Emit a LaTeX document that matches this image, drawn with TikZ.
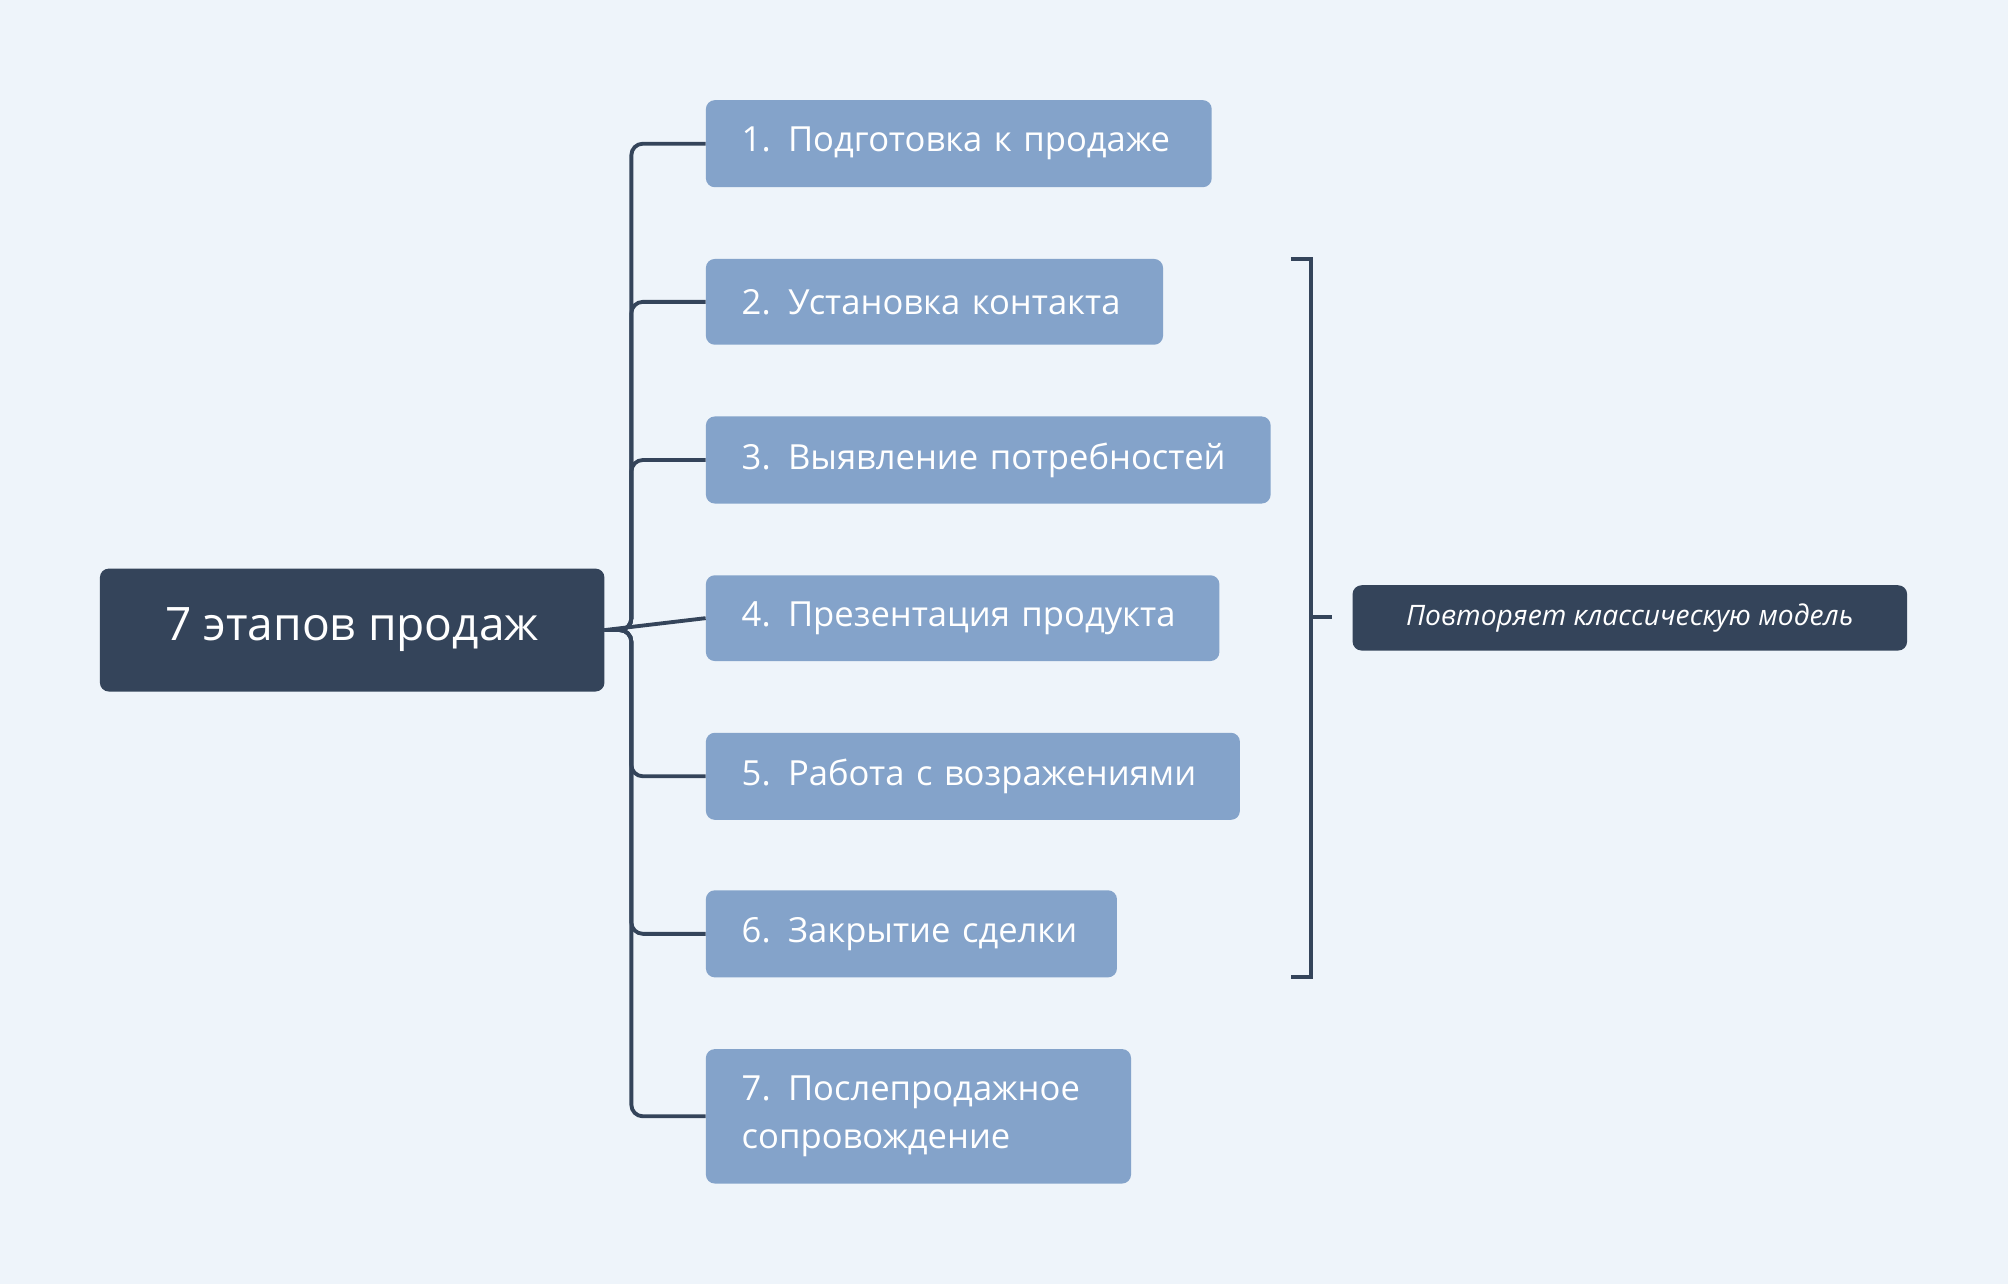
\documentclass[tikz,border=0pt]{standalone}
\usepackage{fontspec}
\setmainfont{Open Sans}
\definecolor{bg}{HTML}{EEF4FA}
\definecolor{dark}{HTML}{34445A}
\definecolor{stage}{HTML}{84A3CA}
\tikzset{
  stagebox/.style={fill=stage, rounded corners=7pt, anchor=north west, text=white, align=left, inner xsep=28pt, inner ysep=0pt, font=\fontsize{27}{38}\selectfont},
  link/.style={draw=dark, line width=3pt, rounded corners=9pt},
}
\begin{document}
\begin{tikzpicture}[x=1pt,y=-1pt]
\fill[bg] (0,0) rectangle (1568,1003);
\useasboundingbox (0,0) rectangle (1568,1003);
\node[fill=dark, rounded corners=7pt, text=white, minimum width=394pt, minimum height=96pt, font=\fontsize{36}{40}\selectfont] (main) at (275,492) {7 этапов продаж};
\node[stagebox, text width=339pt, minimum height=68pt] (b1) at (551,78) {1. Подготовка к продаже};
\node[stagebox, text width=301pt, minimum height=67pt] (b2) at (551,202) {2. Установка контакта};
\node[stagebox, text width=385pt, minimum height=68pt] (b3) at (551,325) {3. Выявление потребностей};
\node[stagebox, text width=345pt, minimum height=67pt] (b4) at (551,449) {4. Презентация продукта};
\node[stagebox, text width=361pt, minimum height=68pt] (b5) at (551,572) {5. Работа с возражениями};
\node[stagebox, text width=265pt, minimum height=68pt] (b6) at (551,695) {6. Закрытие сделки};
\node[stagebox, text width=276pt, minimum height=105pt] (b7) at (551,819) {7. Послепродажное\\сопровождение};
\coordinate (j) at (493,492);
\foreach \b in {b1,b2,b3,b5,b6,b7} {
  \draw[link] (main.east) -- (j) |- (\b.west);
}
\draw[link] (main.east) -- (b4.west);
\coordinate (t) at (1008,202);
\coordinate (bt) at (1008,763);
\coordinate (m) at (1024,482);
\coordinate (me) at (1040,482);
\draw[draw=dark, line width=3pt] (t) -- (1024,202) -- (1024,763) -- (bt);
\draw[draw=dark, line width=3pt] (m) -- (me);
\node[fill=dark, rounded corners=7pt, text=white, anchor=west, minimum width=433pt, minimum height=51pt, font=\itshape\fontsize{22}{26}\selectfont] (note) at (1056,482.5) {Повторяет классическую модель};
\end{tikzpicture}
\end{document}
